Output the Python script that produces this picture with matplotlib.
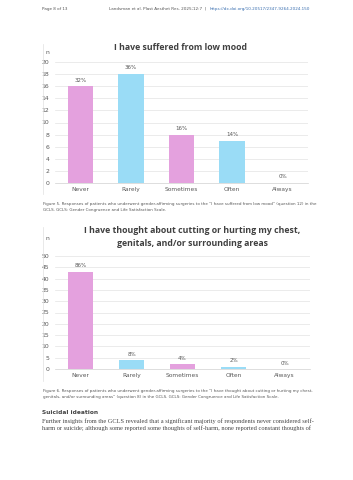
import matplotlib
matplotlib.use("Agg")
import matplotlib.pyplot as plt

categories = ["Never", "Rarely", "Sometimes", "Often", "Always"]
mood_counts = [16, 18, 8, 7, 0]
mood_pct = ["32%", "36%", "16%", "14%", "0%"]
harm_counts = [43, 4, 2, 1, 0]
harm_pct = ["86%", "8%", "4%", "2%", "0%"]

PINK = "#E4A1DE"
BLUE = "#9ADCF6"
bar_colors = [PINK, BLUE, PINK, BLUE, PINK]

W, H = 353, 480
fig = plt.figure(figsize=(W / 100, H / 100), dpi=100)
fig.patch.set_facecolor("white")


def px_axes(left, top, right, bottom):
    return fig.add_axes([left / W, 1 - bottom / H, (right - left) / W, (bottom - top) / H])


def draw_chart(ax, counts, pct, ymax, step):
    x = range(len(categories))
    ax.bar(x, counts, width=0.5, color=bar_colors, zorder=3)
    for xi, c, p in zip(x, counts, pct):
        ax.text(xi, c + ymax * 0.03, p, ha="center", va="bottom", fontsize=4.0, color="#595959")
    ax.set_xlim(-0.5, 4.5)
    ax.set_ylim(0, ymax)
    ax.set_yticks(range(0, ymax + 1, step))
    ax.set_xticks(list(x))
    ax.set_xticklabels(categories)
    ax.grid(axis="y", color="#E3E3E3", linewidth=0.5, zorder=0)
    for s in ["top", "right", "left"]:
        ax.spines[s].set_visible(False)
    ax.spines["bottom"].set_color("#D0D0D0")
    ax.spines["bottom"].set_linewidth(0.5)
    ax.tick_params(axis="y", length=0, labelsize=4.4, labelcolor="#595959", pad=4)
    ax.tick_params(axis="x", length=0, labelsize=4.2, labelcolor="#595959", pad=3)


title_font = ["Open Sans", "DejaVu Sans"]
cap = dict(fontsize=2.87, color="#555555", va="center")

# header
fig.text(42 / W, 1 - 9 / H, "Page 8 of 13", fontsize=3.0, color="#555555", va="center")
fig.text(109 / W, 1 - 9 / H, "Landsman et al. Plast Aesthet Res. 2025;12:7  |", fontsize=3.0,
         color="#555555", va="center")
fig.text(210 / W, 1 - 9 / H, "https://dx.doi.org/10.20517/2347-9264.2024.150", fontsize=3.0,
         color="#3A6FB0", va="center")

# chart 1
fig.add_artist(plt.Line2D([43 / W, 43 / W], [1 - 44 / H, 1 - 194 / H], color="#E0E0E0", lw=0.5))
fig.text(181 / W, 1 - 48 / H, "I have suffered from low mood", fontsize=6.3, fontweight="bold",
         color="#404040", ha="center", va="center", family=title_font)
fig.text(46 / W, 1 - 52 / H, "n", fontsize=4.4, color="#595959", va="center")
ax1 = px_axes(55, 62, 308, 183)
draw_chart(ax1, mood_counts, mood_pct, 20, 2)

fig.text(43 / W, 1 - 204 / H,
         "Figure 5. Responses of patients who underwent gender-affirming surgeries to the \u201cI have suffered from low mood\u201d (question 12) in the",
         **cap)
fig.text(43 / W, 1 - 210 / H, "GCLS. GCLS: Gender Congruence and Life Satisfaction Scale.", **cap)

# chart 2
fig.add_artist(plt.Line2D([43 / W, 43 / W], [1 - 227 / H, 1 - 381 / H], color="#E0E0E0", lw=0.5))
fig.text(192 / W, 1 - 231 / H, "I have thought about cutting or hurting my chest,", fontsize=6.3,
         fontweight="bold", color="#404040", ha="center", va="center", family=title_font)
fig.text(192 / W, 1 - 244 / H, "genitals, and/or surrounding areas", fontsize=6.3,
         fontweight="bold", color="#404040", ha="center", va="center", family=title_font)
fig.text(46 / W, 1 - 238 / H, "n", fontsize=4.4, color="#595959", va="center")
ax2 = px_axes(55, 256, 310, 369)
draw_chart(ax2, harm_counts, harm_pct, 50, 5)

fig.text(43 / W, 1 - 391 / H,
         "Figure 6. Responses of patients who underwent gender-affirming surgeries to the \u201cI have thought about cutting or hurting my chest,",
         **cap)
fig.text(43 / W, 1 - 397 / H,
         "genitals, and/or surrounding areas\u201d (question 8) in the GCLS. GCLS: Gender Congruence and Life Satisfaction Scale.",
         **cap)

# body text
fig.text(42 / W, 1 - 413 / H, "Suicidal ideation", fontsize=4.2, fontweight="bold",
         color="#444444", va="center")
fig.text(42 / W, 1 - 421 / H,
         "Further insights from the GCLS revealed that a significant majority of respondents never considered self-",
         fontsize=4.55, color="#444444", va="center", family="Liberation Serif")
fig.text(42 / W, 1 - 428 / H,
         "harm or suicide; although some reported some thoughts of self-harm, none reported constant thoughts of",
         fontsize=4.55, color="#444444", va="center", family="Liberation Serif")

fig.savefig("out.png", dpi=100)
